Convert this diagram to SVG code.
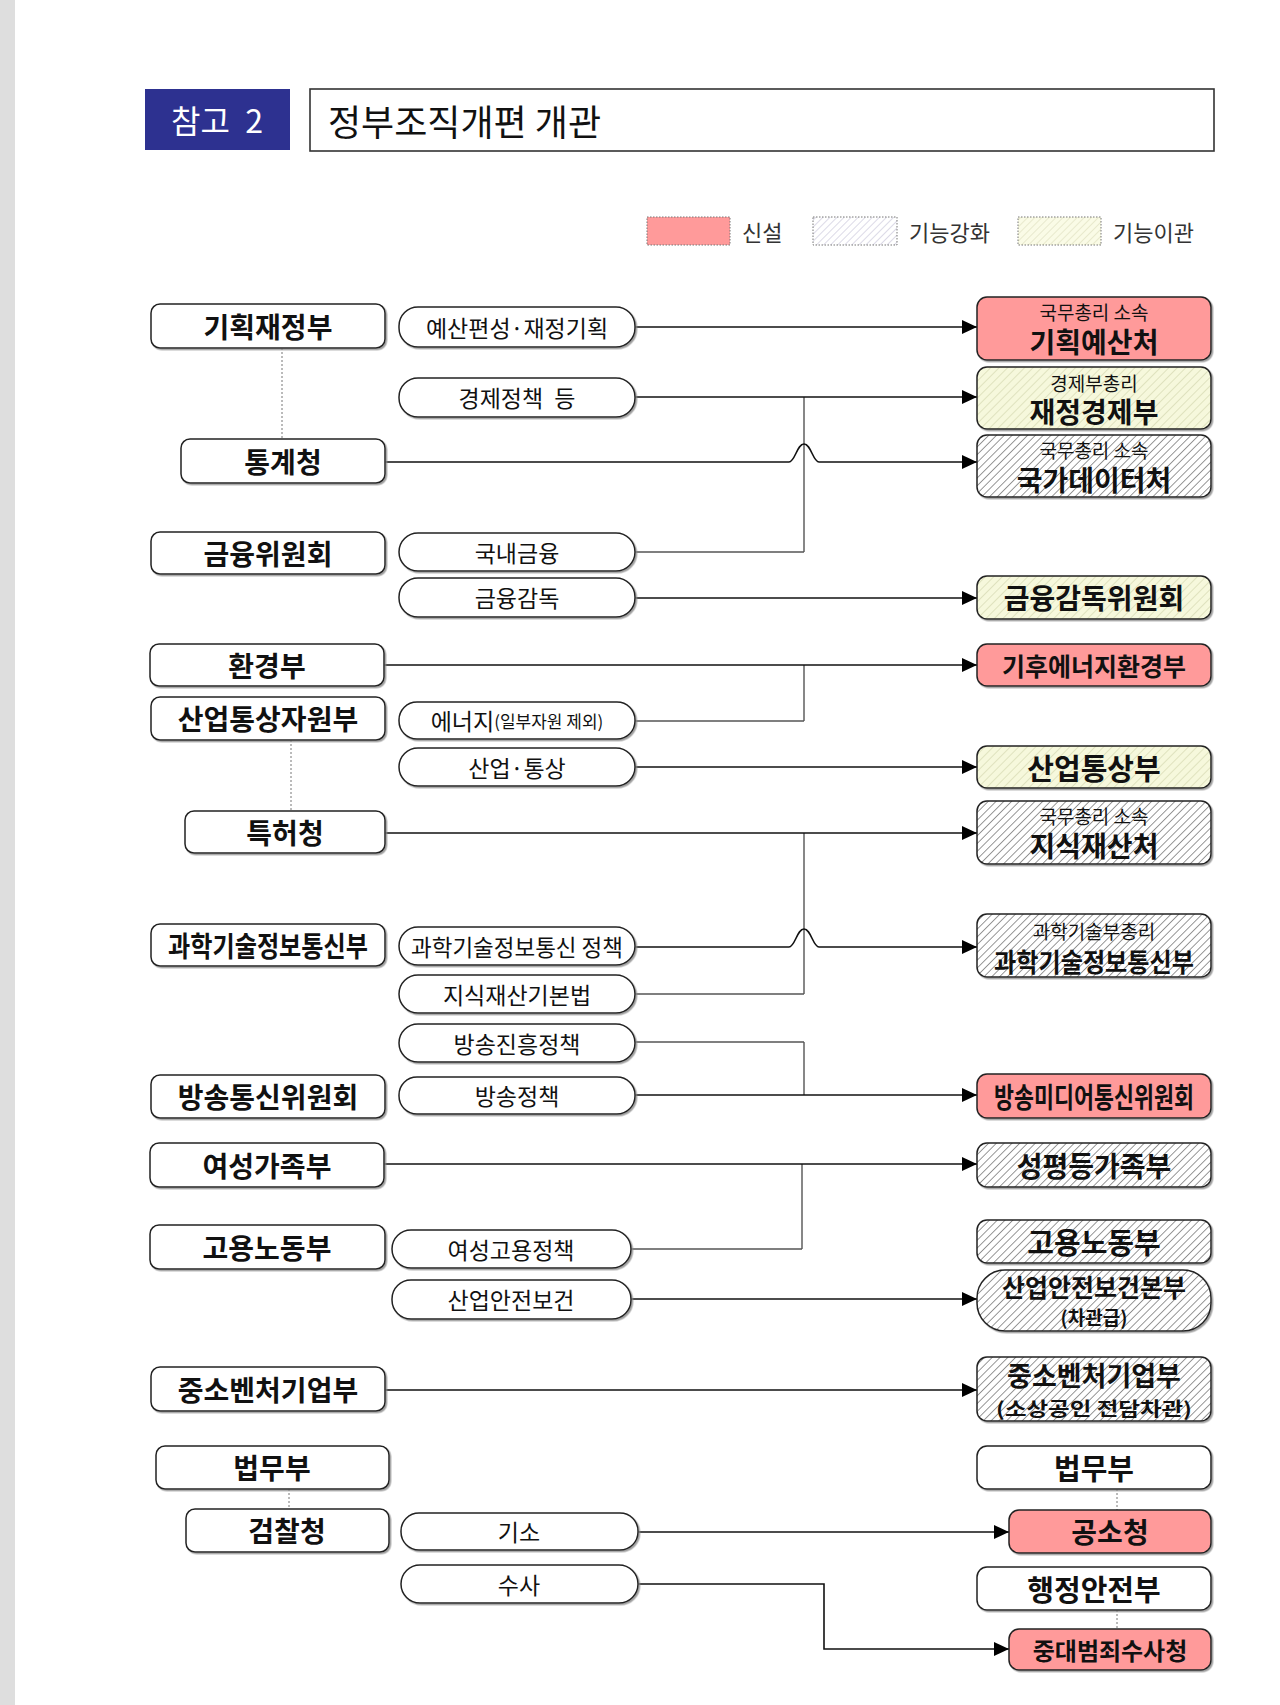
<svg xmlns="http://www.w3.org/2000/svg" width="1280" height="1705" viewBox="0 0 1280 1705">
<defs>
<style>
text{font-family:"Noto Sans CJK KR","Noto Sans",sans-serif;fill:#111;text-anchor:middle;dominant-baseline:central}
.lb{font-size:28px;font-weight:700}
.pl{font-size:23px;font-weight:400}
.sm{font-size:19px;font-weight:400}
.rb{font-size:28px;font-weight:700}
.lg{font-size:22px;font-weight:400;text-anchor:start;fill:#333}
.box{fill:#fff;stroke:#222;stroke-width:1.5;filter:url(#sh)}
.pill{fill:#fff;stroke:#222;stroke-width:1.5;filter:url(#sh)}
.new{fill:#ff9a9a;stroke:#222;stroke-width:1.5;filter:url(#sh)}
.str{fill:url(#hg);stroke:#222;stroke-width:1.5;filter:url(#sh)}
.mov{fill:url(#hy);stroke:#222;stroke-width:1.5;filter:url(#sh)}
.ln{fill:none;stroke:#111;stroke-width:1.6}
.vl{fill:none;stroke:#555;stroke-width:1.4}
.dl{fill:none;stroke:#777;stroke-width:1;stroke-dasharray:2 2}
</style>
<filter id="sh" x="-5%" y="-10%" width="115%" height="130%">
<feDropShadow dx="1.5" dy="1.5" stdDeviation="0.7" flood-color="#888" flood-opacity="0.8"/>
</filter>
<pattern id="hg" width="5.5" height="5.5" patternUnits="userSpaceOnUse" patternTransform="rotate(45)">
<rect width="5.5" height="5.5" fill="#fff"/>
<line x1="0" y1="0" x2="0" y2="5.5" stroke="#444" stroke-width="1.1"/>
</pattern>
<pattern id="hy" width="6" height="6" patternUnits="userSpaceOnUse" patternTransform="rotate(45)">
<rect width="6" height="6" fill="#f6f8dc"/>
<line x1="0" y1="0" x2="0" y2="6" stroke="#c9cca0" stroke-width="1"/>
</pattern>
<pattern id="hl" width="5" height="5" patternUnits="userSpaceOnUse" patternTransform="rotate(45)">
<rect width="5" height="5" fill="#fff"/>
<line x1="0" y1="0" x2="0" y2="5" stroke="#b9b5cf" stroke-width="1"/>
</pattern>
<pattern id="hyl" width="5" height="5" patternUnits="userSpaceOnUse" patternTransform="rotate(45)">
<rect width="5" height="5" fill="#fafbe6"/>
<line x1="0" y1="0" x2="0" y2="5" stroke="#d6d8b4" stroke-width="1"/>
</pattern>
<marker id="ah" markerUnits="userSpaceOnUse" markerWidth="15" markerHeight="14" viewBox="0 0 15 14" refX="15" refY="7" orient="auto">
<path d="M0,0 L15,7 L0,14 z" fill="#000"/>
</marker>
</defs>

<rect width="1280" height="1705" fill="#fff"/>
<rect x="0" y="0" width="15" height="1705" fill="#dedede"/>

<g id="header">
<rect x="145" y="89" width="145" height="61" fill="#2d3190"/>
<text x="217" y="119" style="fill:#fff;font-size:32px;font-weight:400" word-spacing="8">참고 2</text>
<rect x="310" y="89" width="904" height="62" fill="#fff" stroke="#333" stroke-width="1.6"/>
<text x="328" y="120" style="font-size:36px;font-weight:400;text-anchor:start">정부조직개편 개관</text>
</g>

<g id="legend">
<rect x="647" y="217" width="83" height="28" fill="#ff9a9a" stroke="#777" stroke-width="1" stroke-dasharray="1.5 1.5"/>
<text class="lg" x="742" y="231">신설</text>
<rect x="813" y="217" width="84" height="28" fill="url(#hl)" stroke="#777" stroke-width="1" stroke-dasharray="1.5 1.5"/>
<text class="lg" x="909" y="231">기능강화</text>
<rect x="1018" y="217" width="83" height="28" fill="url(#hyl)" stroke="#777" stroke-width="1" stroke-dasharray="1.5 1.5"/>
<text class="lg" x="1113" y="231">기능이관</text>
</g>

<g id="connectors">
<path class="dl" d="M282,348 V439"/>
<path class="dl" d="M291,740 V811"/>
<path class="dl" d="M289,1489 V1509"/>
<path class="dl" d="M1117,1489 V1510"/>
<path class="dl" d="M1117,1610 V1629"/>
<path class="vl" d="M804,397 V552 M635,552 H804"/>
<path class="vl" d="M804,665 V721 M635,721 H804"/>
<path class="vl" d="M804,833 V994 M635,994 H804"/>
<path class="vl" d="M804,1042 V1095 M635,1042 H804"/>
<path class="vl" d="M802,1164 V1249 M631,1249 H802"/>
<path class="ln" d="M635,327 H977" marker-end="url(#ah)"/>
<path class="ln" d="M635,397 H977" marker-end="url(#ah)"/>
<path class="ln" d="M385,462 H789 C795,462 797,444 804,444 C811,444 813,462 819,462 H977" marker-end="url(#ah)"/>
<path class="ln" d="M635,598 H977" marker-end="url(#ah)"/>
<path class="ln" d="M384,665 H977" marker-end="url(#ah)"/>
<path class="ln" d="M635,767 H977" marker-end="url(#ah)"/>
<path class="ln" d="M385,833 H977" marker-end="url(#ah)"/>
<path class="ln" d="M635,947 H789 C795,947 797,929 804,929 C811,929 813,947 819,947 H977" marker-end="url(#ah)"/>
<path class="ln" d="M635,1095 H977" marker-end="url(#ah)"/>
<path class="ln" d="M384,1164 H977" marker-end="url(#ah)"/>
<path class="ln" d="M631,1299 H977" marker-end="url(#ah)"/>
<path class="ln" d="M385,1390 H977" marker-end="url(#ah)"/>
<path class="ln" d="M638,1532 H1009" marker-end="url(#ah)"/>
<path class="ln" d="M638,1584 H824 V1649 H1009" marker-end="url(#ah)"/>
</g>

<!-- left column -->
<g id="n-mosf"><rect class="box" x="151" y="304" width="234" height="44" rx="9"/><text class="lb" x="268" y="326">기획재정부</text></g>
<g id="n-kostat"><rect class="box" x="181" y="439" width="204" height="44" rx="9"/><text class="lb" x="283" y="461">통계청</text></g>
<g id="n-fsc"><rect class="box" x="151" y="532" width="234" height="42" rx="9"/><text class="lb" x="268" y="553">금융위원회</text></g>
<g id="n-me"><rect class="box" x="150" y="644" width="234" height="42" rx="9"/><text class="lb" x="267" y="665">환경부</text></g>
<g id="n-motie"><rect class="box" x="151" y="697" width="234" height="43" rx="9"/><text class="lb" x="268" y="718">산업통상자원부</text></g>
<g id="n-kipo"><rect class="box" x="185" y="811" width="200" height="42" rx="9"/><text class="lb" x="285" y="832">특허청</text></g>
<g id="n-msit"><rect class="box" x="151" y="924" width="234" height="42" rx="9"/><text class="lb" x="268" y="945" textLength="200" lengthAdjust="spacingAndGlyphs">과학기술정보통신부</text></g>
<g id="n-kcc"><rect class="box" x="151" y="1075" width="234" height="43" rx="9"/><text class="lb" x="268" y="1096">방송통신위원회</text></g>
<g id="n-mogef"><rect class="box" x="150" y="1143" width="234" height="44" rx="9"/><text class="lb" x="267" y="1165">여성가족부</text></g>
<g id="n-moel"><rect class="box" x="150" y="1225" width="235" height="44" rx="9"/><text class="lb" x="267" y="1247">고용노동부</text></g>
<g id="n-mss"><rect class="box" x="151" y="1367" width="234" height="44" rx="9"/><text class="lb" x="268" y="1389">중소벤처기업부</text></g>
<g id="n-moj"><rect class="box" x="156" y="1446" width="233" height="43" rx="9"/><text class="lb" x="272" y="1467">법무부</text></g>
<g id="n-spo"><rect class="box" x="186" y="1509" width="203" height="43" rx="9"/><text class="lb" x="287" y="1530">검찰청</text></g>

<!-- middle pills -->
<g id="p-budget"><rect class="pill" x="399" y="307" width="236" height="40" rx="19"/><text class="pl" x="517" y="327">예산편성·재정기획</text></g>
<g id="p-econ"><rect class="pill" x="399" y="378" width="236" height="39" rx="19"/><text class="pl" x="517" y="397" word-spacing="6">경제정책 등</text></g>
<g id="p-domfin"><rect class="pill" x="399" y="533" width="236" height="38" rx="19"/><text class="pl" x="517" y="552">국내금융</text></g>
<g id="p-finsup"><rect class="pill" x="399" y="578" width="236" height="39" rx="19"/><text class="pl" x="517" y="597">금융감독</text></g>
<g id="p-energy"><rect class="pill" x="399" y="702" width="236" height="37" rx="18"/><text class="pl" x="517" y="720">에너지<tspan style="font-size:17px">(일부자원 제외)</tspan></text></g>
<g id="p-indtrade"><rect class="pill" x="399" y="748" width="236" height="38" rx="19"/><text class="pl" x="517" y="767">산업·통상</text></g>
<g id="p-ict"><rect class="pill" x="399" y="927" width="236" height="38" rx="19"/><text class="pl" x="517" y="946" textLength="212" lengthAdjust="spacingAndGlyphs">과학기술정보통신 정책</text></g>
<g id="p-iplaw"><rect class="pill" x="399" y="975" width="236" height="38" rx="19"/><text class="pl" x="517" y="994">지식재산기본법</text></g>
<g id="p-brdpromo"><rect class="pill" x="399" y="1024" width="236" height="38" rx="19"/><text class="pl" x="517" y="1043">방송진흥정책</text></g>
<g id="p-brdpol"><rect class="pill" x="399" y="1077" width="236" height="37" rx="18"/><text class="pl" x="517" y="1095">방송정책</text></g>
<g id="p-womenemp"><rect class="pill" x="392" y="1230" width="239" height="38" rx="19"/><text class="pl" x="511" y="1249">여성고용정책</text></g>
<g id="p-safety"><rect class="pill" x="392" y="1280" width="239" height="39" rx="19"/><text class="pl" x="511" y="1299">산업안전보건</text></g>
<g id="p-prosec"><rect class="pill" x="401" y="1513" width="237" height="37" rx="18"/><text class="pl" x="519" y="1531">기소</text></g>
<g id="p-invest"><rect class="pill" x="401" y="1565" width="237" height="38" rx="19"/><text class="pl" x="519" y="1584">수사</text></g>

<!-- right column -->
<g id="r-mpb"><rect class="new" x="977" y="297" width="234" height="63" rx="10"/><text class="sm" x="1094" y="311">국무총리 소속</text><text class="rb" x="1094" y="341">기획예산처</text></g>
<g id="r-mofe"><rect class="mov" x="977" y="367" width="234" height="62" rx="10"/><text class="sm" x="1094" y="382">경제부총리</text><text class="rb" x="1094" y="411">재정경제부</text></g>
<g id="r-data"><rect class="str" x="977" y="435" width="234" height="62" rx="10"/><text class="sm" x="1094" y="449">국무총리 소속</text><text class="rb" x="1094" y="479">국가데이터처</text></g>
<g id="r-fss"><rect class="mov" x="977" y="576" width="234" height="43" rx="10"/><text class="lb" x="1094" y="597">금융감독위원회</text></g>
<g id="r-climate"><rect class="new" x="977" y="644" width="234" height="42" rx="10"/><text class="lb" x="1094" y="665" style="font-size:25px">기후에너지환경부</text></g>
<g id="r-mot"><rect class="mov" x="977" y="746" width="234" height="42" rx="10"/><text class="rb" x="1094" y="767" style="font-size:29px">산업통상부</text></g>
<g id="r-ip"><rect class="str" x="977" y="801" width="234" height="63" rx="10"/><text class="sm" x="1094" y="815">국무총리 소속</text><text class="rb" x="1094" y="845">지식재산처</text></g>
<g id="r-msit"><rect class="str" x="977" y="914" width="234" height="63" rx="10"/><text class="sm" x="1094" y="930">과학기술부총리</text><text class="lb" x="1094" y="960" style="font-size:26px" textLength="200" lengthAdjust="spacingAndGlyphs">과학기술정보통신부</text></g>
<g id="r-kmcc"><rect class="new" x="977" y="1074" width="234" height="44" rx="10"/><text class="lb" x="1094" y="1096" textLength="200" lengthAdjust="spacingAndGlyphs">방송미디어통신위원회</text></g>
<g id="r-gender"><rect class="str" x="977" y="1143" width="234" height="44" rx="10"/><text class="lb" x="1094" y="1165">성평등가족부</text></g>
<g id="r-moel"><rect class="str" x="977" y="1220" width="234" height="43" rx="10"/><text class="rb" x="1094" y="1241" style="font-size:29px">고용노동부</text></g>
<g id="r-safety"><rect class="str" x="977" y="1270" width="234" height="61" rx="28"/><text class="lb" x="1094" y="1286" style="font-size:25px">산업안전보건본부</text><text class="sm" x="1094" y="1316" style="font-weight:700">(차관급)</text></g>
<g id="r-mss"><rect class="str" x="977" y="1357" width="234" height="64" rx="10"/><text class="lb" x="1094" y="1374" style="font-size:27px">중소벤처기업부</text><text class="sm" x="1094" y="1407" style="font-weight:700" textLength="196" lengthAdjust="spacingAndGlyphs">(소상공인 전담차관)</text></g>
<g id="r-moj"><rect class="box" x="977" y="1446" width="234" height="43" rx="10"/><text class="rb" x="1094" y="1467" style="font-size:29px">법무부</text></g>
<g id="r-prosec"><rect class="new" x="1009" y="1510" width="202" height="43" rx="10"/><text class="lb" x="1110" y="1531">공소청</text></g>
<g id="r-mois"><rect class="box" x="977" y="1567" width="234" height="43" rx="10"/><text class="rb" x="1094" y="1588" style="font-size:29px">행정안전부</text></g>
<g id="r-scia"><rect class="new" x="1009" y="1629" width="202" height="41" rx="10"/><text class="lb" x="1110" y="1649" style="font-size:24px">중대범죄수사청</text></g>
</svg>
